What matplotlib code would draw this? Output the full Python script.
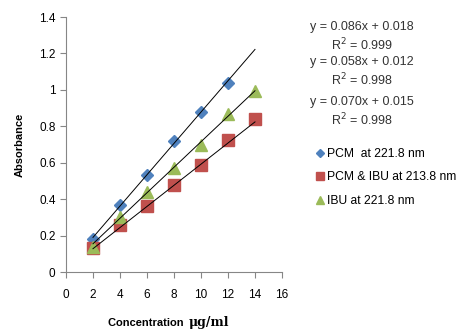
import matplotlib.pyplot as plt
import numpy as np

plt.rcParams['font.family'] = ['Liberation Sans', 'DejaVu Sans']

conc = [2, 4, 6, 8, 10, 12, 14]
pcm = [0.18, 0.37, 0.53, 0.72, 0.88, 1.04]
pcm_ibu = [0.13, 0.26, 0.36, 0.48, 0.59, 0.725, 0.84]
ibu = [0.14, 0.30, 0.44, 0.57, 0.70, 0.865, 0.995]

slopes = [0.086, 0.058, 0.070]
intercepts = [0.018, 0.012, 0.015]
r2 = ["0.999", "0.998", "0.998"]
labels = ["PCM  at 221.8 nm", "PCM & IBU at 213.8 nm", "IBU at 221.8 nm"]

fig = plt.figure(figsize=(4.66, 3.34), dpi=100)
ax = fig.add_axes([0.1416, 0.1856, 0.4635, 0.7635])

xs = np.array([2, 14])
for m, b in zip(slopes, intercepts):
    ax.plot(xs, m * xs + b, color='black', lw=0.7, zorder=3)

h1, = ax.plot(conc[:len(pcm)], pcm, 'D', color='#4F81BD', ms=6, mec='#4F81BD', ls='none', zorder=2)
h2, = ax.plot(conc, pcm_ibu, 's', color='#C0504D', ms=8, mec='#C0504D', ls='none', zorder=2)
h3, = ax.plot(conc, ibu, '^', color='#9BBB59', ms=8.5, mec='#9BBB59', ls='none', zorder=2)

ax.set_xlim(0, 16)
ax.set_ylim(0, 1.4)
ax.set_xticks(range(0, 17, 2))
ax.set_yticks([0, 0.2, 0.4, 0.6, 0.8, 1.0, 1.2, 1.4])
ax.set_yticklabels(['0', '0.2', '0.4', '0.6', '0.8', '1', '1.2', '1.4'])
for s in ['top', 'right']:
    ax.spines[s].set_visible(False)
for s in ['left', 'bottom']:
    ax.spines[s].set_color('#868686')
ax.tick_params(colors='#868686', labelcolor='black', labelsize=8.5, length=4)
ax.tick_params(axis='x', pad=8)
ax.set_ylabel('Absorbance', fontsize=8, fontweight='bold', labelpad=10)
fig.text(0.401, 0.033, 'Concentration ', fontsize=8, fontweight='bold', ha='right', va='center')
fig.text(0.404, 0.033, 'μg/ml', fontsize=9, fontweight='bold', family='DejaVu Serif', ha='left', va='center')

eq_y = [0.919, 0.814, 0.695]
for i in range(3):
    fig.text(0.777, eq_y[i], 'y = %.3fx + %.3f' % (slopes[i], intercepts[i]),
             fontsize=9, ha='center', va='center', color='#333333')
    fig.text(0.777, eq_y[i] - 0.053, 'R$^2$ = ' + r2[i],
             fontsize=9, ha='center', va='center', color='#333333')

fig.legend([h1, h2, h3], labels, loc='upper left', bbox_to_anchor=(0.655, 0.59),
           frameon=False, fontsize=8.7, handlelength=0.6, handletextpad=0.3,
           labelspacing=0.95, markerscale=0.75)

fig.savefig('out.png', dpi=100)
